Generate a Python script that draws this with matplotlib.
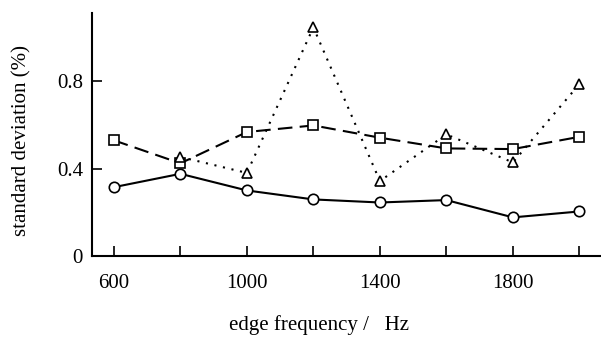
import matplotlib
matplotlib.use("Agg")
import matplotlib.pyplot as plt

plt.rcParams['font.family'] = ['Liberation Serif', 'DejaVu Serif']

freq = [600, 800, 1000, 1200, 1400, 1600, 1800, 2000]
circles = [0.315, 0.376, 0.300, 0.259, 0.245, 0.256, 0.177, 0.204]
squares = [0.529, 0.424, 0.567, 0.597, 0.541, 0.492, 0.489, 0.545]
tri_freq = [800, 1000, 1200, 1400, 1600, 1800, 2000]
triangles = [0.453, 0.380, 1.045, 0.343, 0.556, 0.428, 0.786]

xticks = [600, 800, 1000, 1200, 1400, 1600, 1800, 2000]
xlabels = ["600", "", "1000", "", "1400", "", "1800", ""]
yticks = [0, 0.4, 0.8]
ylabels = ["0", "0.4", "0.8"]

fig = plt.figure(figsize=(6.01, 3.37), dpi=100)
ax = fig.add_axes([0.153, 0.240, 0.847, 0.721])

ax.plot(freq, circles, color="black", lw=1.5, ls="-",
        marker="o", ms=7.5, mfc="white", mec="black", mew=1.2)
ax.plot(freq, squares, color="black", lw=1.5, ls=(0, (7, 3.5)),
        marker="s", ms=7.5, mfc="white", mec="black", mew=1.2)
ax.plot(tri_freq, triangles, color="black", lw=1.5, ls=(0, (1, 3.2)),
        marker="^", ms=7, mfc="white", mec="black", mew=1.2)

ax.set_xlim(534, 2065)
ax.set_ylim(0, 1.11)
ax.set_xticks(xticks)
ax.set_xticklabels(xlabels)
ax.set_yticks(yticks)
ax.set_yticklabels(ylabels)

for s in ["top", "right"]:
    ax.spines[s].set_visible(False)
for s in ["left", "bottom"]:
    ax.spines[s].set_linewidth(1.5)

ax.tick_params(direction="in", length=7, width=1.2, labelsize=15)
ax.tick_params(axis="x", pad=13)
ax.tick_params(axis="y", pad=6.5)

ax.set_xlabel("edge frequency /   Hz", fontsize=15)
ax.xaxis.set_label_coords(0.446, -0.284)
ax.xaxis.label.set_va("center")
ax.set_ylabel("standard deviation (%)", fontsize=15)
ax.yaxis.set_label_coords(-0.137, 0.477)
ax.yaxis.label.set_va("center")

fig.savefig("out.png", dpi=100)
